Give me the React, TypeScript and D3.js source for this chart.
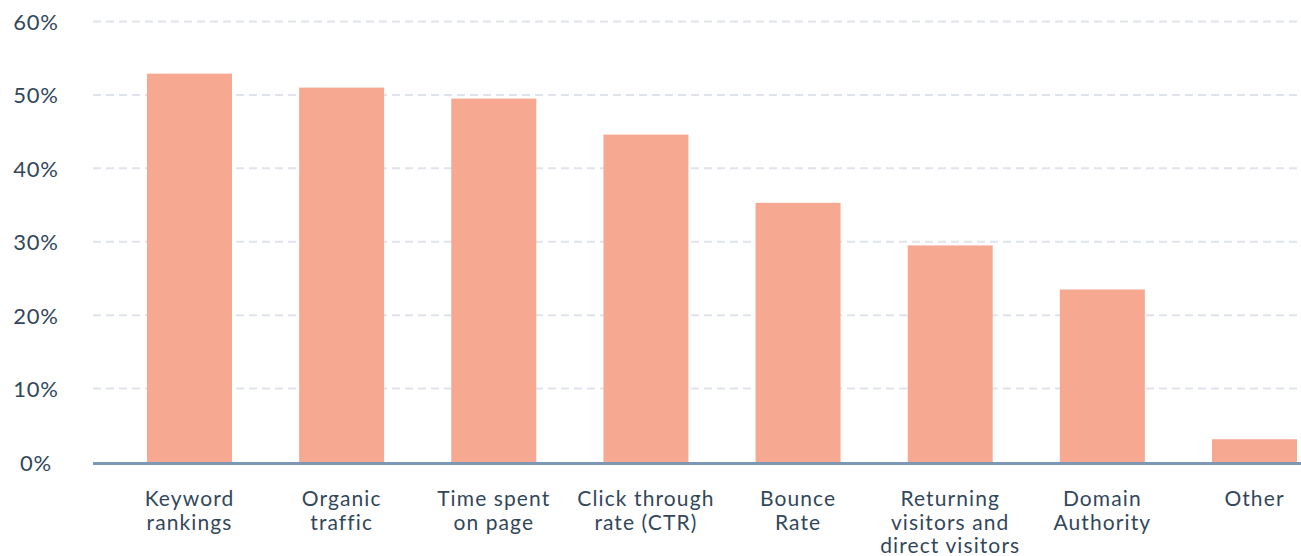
import { useEffect, useRef } from 'react';
import * as d3 from 'd3';

const CATEGORIES = [
  ['Keyword', 'rankings'],
  ['Organic', 'traffic'],
  ['Time spent', 'on page'],
  ['Click through', 'rate (CTR)'],
  ['Bounce', 'Rate'],
  ['Returning', 'visitors and', 'direct visitors'],
  ['Domain', 'Authority'],
  ['Other'],
];
const VALUES = [52.9, 51.0, 49.5, 44.6, 35.3, 29.5, 23.5, 3.1];
const Y_TICKS = [0, 10, 20, 30, 40, 50, 60];

const COLORS = {
  bar: '#f6a891',
  text: '#33475b',
  grid: '#dfe3eb',
  axis: '#7c98b6',
};

export default function App() {
  const svgRef = useRef<SVGSVGElement>(null);
  const width = 1301;
  const height = 556;

  useEffect(() => {
    if (!svgRef.current) return;
    const svg = d3.select(svgRef.current);
    svg.selectAll('*').remove();

    const font = 'Lato, "Open Sans", sans-serif';
    const keys = CATEGORIES.map((c) => c.join(' '));

    const x = d3.scalePoint<string>().domain(keys).range([189.5, 1254.5]);
    const y = d3.scaleLinear().domain([0, 60]).range([462, 21.5]);
    const barW = 85;

    // Grid lines
    svg.append('g')
      .selectAll('line')
      .data(Y_TICKS.filter((t) => t > 0))
      .join('line')
      .attr('x1', 93)
      .attr('x2', width)
      .attr('y1', (d) => y(d))
      .attr('y2', (d) => y(d))
      .attr('stroke', COLORS.grid)
      .attr('stroke-width', 2)
      .attr('stroke-dasharray', '8,5');

    // Y tick labels
    svg.append('g')
      .selectAll('text')
      .data(Y_TICKS)
      .join('text')
      .attr('x', 36)
      .attr('y', (d) => y(d))
      .attr('text-anchor', 'middle')
      .attr('dominant-baseline', 'central')
      .attr('font-family', font)
      .attr('font-size', '22px')
      .attr('letter-spacing', '0.8px')
      .attr('fill', COLORS.text)
      .text((d) => `${d}%`);

    // Bars
    svg.append('g')
      .selectAll('rect')
      .data(VALUES)
      .join('rect')
      .attr('x', (_, i) => (x(keys[i]) ?? 0) - barW / 2)
      .attr('y', (d) => y(d))
      .attr('width', barW)
      .attr('height', (d) => y(0) - y(d))
      .attr('fill', COLORS.bar);

    // Baseline
    svg.append('line')
      .attr('x1', 93)
      .attr('x2', width)
      .attr('y1', y(0) + 1.5)
      .attr('y2', y(0) + 1.5)
      .attr('stroke', COLORS.axis)
      .attr('stroke-width', 3);

    // Category labels
    const labels = svg.append('g')
      .selectAll('text')
      .data(CATEGORIES)
      .join('text')
      .attr('x', (_, i) => x(keys[i]) ?? 0)
      .attr('y', 506)
      .attr('text-anchor', 'middle')
      .attr('font-family', font)
      .attr('font-size', '21px')
      .attr('letter-spacing', '1.1px')
      .attr('fill', COLORS.text);

    labels.each(function (lines) {
      const t = d3.select(this);
      const cx = t.attr('x');
      lines.forEach((line, j) => {
        t.append('tspan')
          .attr('x', cx)
          .attr('dy', j === 0 ? 0 : 23.5)
          .text(line);
      });
    });
  }, []);

  return (
    <svg
      ref={svgRef}
      width={width}
      height={height}
      style={{ position: 'absolute', left: 0, top: 0, background: '#fff' }}
    />
  );
}
